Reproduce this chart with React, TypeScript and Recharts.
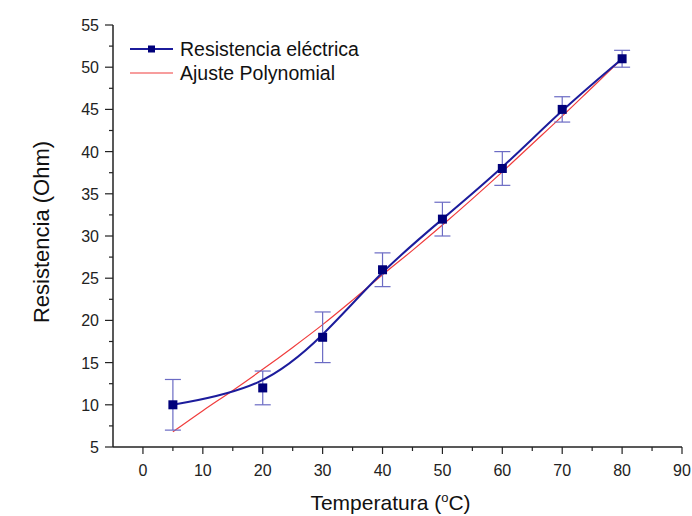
import React from "react";
import {
  ComposedChart,
  Line,
  XAxis,
  YAxis,
  ErrorBar,
} from "recharts";

// measured points
const temps = [5, 20, 30, 40, 50, 60, 70, 80];
const resist = [10, 12, 18, 26, 32, 38, 45, 51];
const resistErr = [3, 2, 3, 2, 2, 2, 1.5, 1];

// polynomial fit
const fitTemps = [5, 10, 15, 20, 25, 30, 35, 40, 45, 50, 55, 60, 65, 70, 75, 80];
const fitResist = [6.8, 9.3, 11.7, 14.2, 16.8, 19.5, 22.4, 25.4, 28.3, 31.3, 34.4, 37.6, 40.9, 44.2, 47.6, 51.0];

const xTicks = [0, 5, 10, 15, 20, 25, 30, 35, 40, 45, 50, 55, 60, 65, 70, 75, 80, 85, 90];
const yTicks = [5, 7.5, 10, 12.5, 15, 17.5, 20, 22.5, 25, 27.5, 30, 32.5, 35, 37.5, 40, 42.5, 45, 47.5, 50, 52.5, 55];
const yMajor = [5, 10, 15, 20, 25, 30, 35, 40, 45, 50, 55];

const measured = temps.map((t, i) => ({ t, r: resist[i], err: resistErr[i] }));
const fit = fitTemps.map((t, i) => ({ t, r: fitResist[i] }));

const FONT = "Liberation Sans, Arial, sans-serif";
const AXIS = "#222";
const BLUE = "#1c1c9c";
const NAVY = "#00007a";
const RED = "#f03c3c";

const XTick = ({ x, y, payload }: any) => {
  const major = payload.value % 10 === 0;
  return (
    <g>
      <line x1={x} x2={x} y1={y} y2={y + (major ? 7 : 4)} stroke={AXIS} strokeWidth={1.2} />
      {major && (
        <text x={x} y={y + 29} textAnchor="middle" fontSize={16} fill="#222" fontFamily={FONT}>
          {payload.value}
        </text>
      )}
    </g>
  );
};

const YTick = ({ x, y, payload }: any) => {
  const major = payload.value % 5 === 0;
  return (
    <g>
      <line x1={x - (major ? 8 : 4)} x2={x} y1={y} y2={y} stroke={AXIS} strokeWidth={1.2} />
      {major && (
        <text x={x - 14} y={y + 6} textAnchor="end" fontSize={16} fill="#222" fontFamily={FONT}>
          {payload.value}
        </text>
      )}
    </g>
  );
};

const RightTick = ({ x, y }: any) => (
  <line x1={x - 8} x2={x} y1={y} y2={y} stroke={AXIS} strokeWidth={1.2} />
);

const Square = ({ cx, cy }: any) => {
  if (cx == null || cy == null) return null;
  return <rect x={cx - 4.5} y={cy - 4.5} width={9} height={9} fill={NAVY} />;
};

const LegendBox = () => (
  <div
    style={{
      position: "absolute",
      left: 128,
      top: 37,
      fontFamily: FONT,
      fontSize: 19.5,
      color: "#111",
      lineHeight: "24px",
    }}
  >
    <div style={{ display: "flex", alignItems: "center" }}>
      <svg width={52} height={24}>
        <line x1={2} x2={45} y1={12} y2={12} stroke={BLUE} strokeWidth={2} />
        <rect x={20} y={8.5} width={7} height={7} fill={NAVY} />
      </svg>
      <span>Resistencia eléctrica</span>
    </div>
    <div style={{ display: "flex", alignItems: "center" }}>
      <svg width={52} height={24}>
        <line x1={2} x2={45} y1={12} y2={12} stroke={RED} strokeWidth={1.2} />
      </svg>
      <span>Ajuste Polynomial</span>
    </div>
  </div>
);

export default function App() {
  return (
    <div style={{ position: "absolute", left: 0, top: 0, width: 692, height: 516, background: "#fff" }}>
      <ComposedChart width={692} height={516} margin={{ top: 25, right: 10, left: 0, bottom: 0 }}>
        <XAxis
          xAxisId="b"
          dataKey="t"
          type="number"
          domain={[-5, 90]}
          ticks={xTicks}
          interval={0}
          allowDataOverflow
          tickSize={0}
          tickMargin={0}
          tickLine={false}
          tick={<XTick />}
          stroke={AXIS}
          strokeWidth={1.5}
          height={69}
          label={({ viewBox }: any) => (
            <text
              x={viewBox.x + viewBox.width / 2 - 7}
              y={viewBox.y + 63}
              textAnchor="middle"
              fontSize={21}
              fill="#111"
              fontFamily={FONT}
            >
              Temperatura (<tspan dy={-8} fontSize={13}>o</tspan>
              <tspan dy={8}>C)</tspan>
            </text>
          )}
        />
        <XAxis
          xAxisId="top"
          orientation="top"
          type="number"
          domain={[-5, 90]}
          ticks={[]}
          height={0}
          stroke={AXIS}
          strokeWidth={1.5}
        />
        <YAxis
          yAxisId="l"
          type="number"
          domain={[5, 55]}
          ticks={yTicks}
          interval={0}
          allowDataOverflow
          width={113}
          tickSize={0}
          tickMargin={0}
          tickLine={false}
          tick={<YTick />}
          stroke={AXIS}
          strokeWidth={1.5}
          label={({ viewBox }: any) => (
            <text
              x={41}
              y={viewBox.y + viewBox.height / 2 - 4}
              textAnchor="middle"
              fontSize={22}
              fill="#111"
              fontFamily={FONT}
              transform={`rotate(-90, 41, ${viewBox.y + viewBox.height / 2 - 4})`}
              dominantBaseline="central"
            >
              Resistencia (Ohm)
            </text>
          )}
        />
        <YAxis
          yAxisId="r"
          orientation="right"
          type="number"
          domain={[5, 55]}
          ticks={yMajor}
          interval={0}
          width={0}
          tickSize={0}
          tickMargin={0}
          tickLine={false}
          tick={<RightTick />}
          stroke={AXIS}
          strokeWidth={1.5}
        />
        <Line
          xAxisId="b"
          yAxisId="l"
          data={fit}
          dataKey="r"
          type="monotone"
          stroke={RED}
          strokeWidth={1.2}
          dot={false}
          isAnimationActive={false}
        />
        <Line
          xAxisId="b"
          yAxisId="l"
          data={measured}
          dataKey="r"
          type="basis"
          stroke={BLUE}
          strokeWidth={2}
          dot={<Square />}
          isAnimationActive={false}
        >
          <ErrorBar dataKey="err" direction="y" width={8} stroke="#6b6bc4" strokeWidth={1.2} />
        </Line>
      </ComposedChart>
      <LegendBox />
    </div>
  );
}
